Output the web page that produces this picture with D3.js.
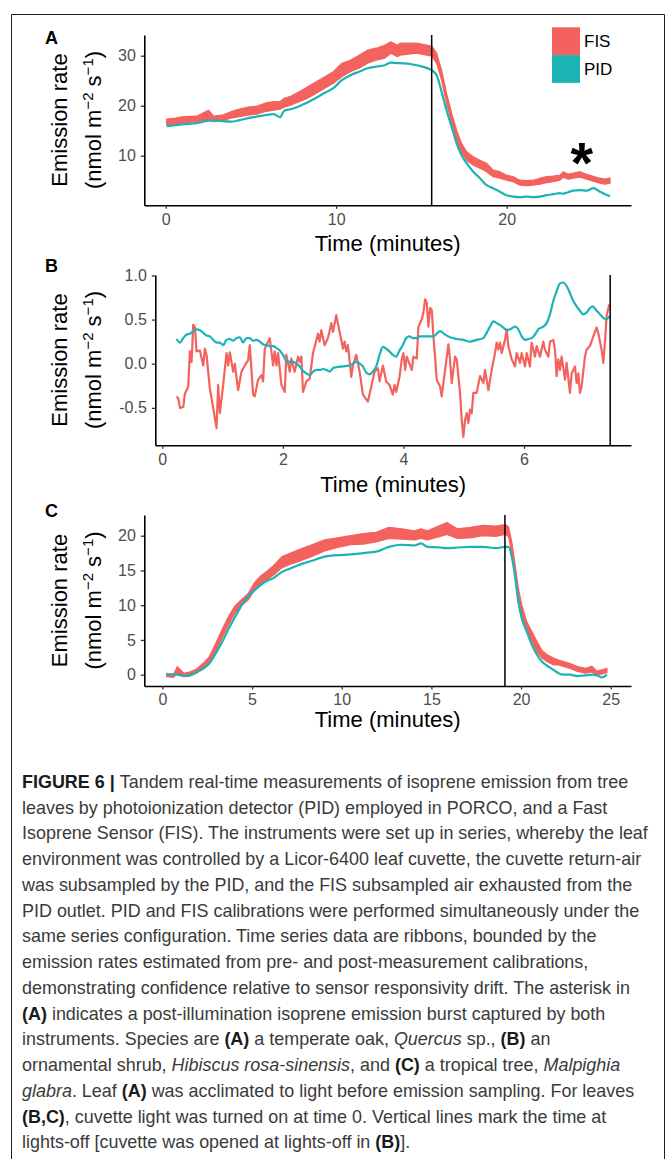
<!DOCTYPE html>
<html><head><meta charset="utf-8">
<script src="https://cdn.jsdelivr.net/npm/d3@7"></script>
<style>body{margin:0;background:#fff}svg{display:block}</style>
</head><body>
<svg id="c" width="670" height="1159"></svg>
<script>
// ---------- DATA ----------
const seriesNames = ["FIS", "PID"];
const panelLabels = ["A", "B", "C"];
const lightsOff = [15.6, 7.43, 19.1];
const xTicksA = [0, 10, 20], yTicksA = [10, 20, 30];
const xTicksB = [0, 2, 4, 6], yTicksB = [-0.5, 0.0, 0.5, 1.0];
const xTicksC = [0, 5, 10, 15, 20, 25], yTicksC = [0, 5, 10, 15, 20];

// Panel A: FIS ribbon [time, lower, upper]
const fisA = [[0.06,16.1,17.3],[0.56,16.3,17.5],[1.06,16.6,17.8],[1.81,16.8,17.9],[2.51,17.1,19.1],[2.81,16.8,17.9],[3.31,17.0,18.1],[3.82,17.5,18.8],[4.32,17.8,19.3],[4.82,18.1,19.7],[5.32,18.3,19.9],[5.82,18.8,20.5],[6.32,19.1,20.8],[6.70,19.3,20.8],[6.95,19.7,21.5],[7.33,20.1,21.9],[7.83,20.8,22.8],[8.33,21.5,23.8],[8.83,22.5,24.8],[9.33,23.5,25.8],[9.83,24.5,26.8],[10.33,25.8,28.5],[10.83,26.8,29.1],[11.34,27.5,30.1],[11.84,28.5,31.1],[12.34,29.1,31.5],[12.84,29.5,32.1],[13.21,30.5,32.8],[13.59,29.8,32.1],[13.74,30.1,32.5],[14.72,30.5,32.5],[15.60,29.9,31.9],[15.89,28.5,30.5],[16.18,25.1,27.1],[16.47,20.5,22.5],[16.77,16.5,18.5],[17.06,13.1,15.1],[17.35,10.5,12.5],[17.65,9.1,10.8],[18.04,8.1,9.8],[18.43,7.5,9.1],[18.82,6.8,8.5],[19.21,5.8,7.1],[19.60,5.5,6.8],[19.99,5.1,6.1],[20.38,4.8,5.8],[20.78,4.1,5.1],[21.17,4.0,5.0],[21.56,4.1,5.1],[21.95,4.3,5.5],[22.34,4.6,5.8],[22.73,4.8,5.9],[23.12,5.1,6.1],[23.32,5.7,6.8],[23.61,5.3,6.3],[23.91,5.5,6.5],[24.30,5.7,6.8],[24.69,5.3,6.3],[25.08,4.9,5.9],[25.47,4.5,5.5],[25.77,4.3,5.3],[26.06,4.5,5.5]];
// Panel A: PID [time, value]
const pidA = [[0.06,15.9],[0.56,16.1],[1.06,16.3],[1.81,16.5],[2.51,17.0],[2.81,17.1],[3.31,16.9],[3.82,16.8],[4.32,17.1],[4.82,17.5],[5.32,17.8],[5.82,18.1],[6.32,18.3],[6.70,17.7],[6.95,19.0],[7.33,19.3],[7.83,19.9],[8.33,20.7],[8.83,21.6],[9.33,22.6],[9.83,23.5],[10.33,25.1],[10.83,26.1],[11.34,26.8],[11.84,27.5],[12.34,27.8],[12.84,28.1],[13.21,28.6],[13.59,28.5],[13.74,28.5],[14.72,28.1],[15.60,27.1],[15.89,26.1],[16.18,22.8],[16.47,19.1],[16.77,15.8],[17.06,12.5],[17.35,10.1],[17.65,8.5],[18.04,6.8],[18.43,5.5],[18.82,4.1],[19.21,3.5],[19.60,2.8],[19.99,2.1],[20.38,1.8],[20.78,1.7],[21.17,1.8],[21.56,1.7],[21.95,1.8],[22.34,2.1],[22.73,2.3],[23.12,2.5],[23.32,2.4],[23.61,2.7],[23.91,3.0],[24.30,3.1],[24.69,3.0],[25.08,3.5],[25.47,2.8],[25.77,2.3],[26.06,1.9]];

// Panel B: FIS [time, value]
const fisB = [[0.237,-0.37],[0.265,-0.39],[0.292,-0.50],[0.348,-0.49],[0.375,-0.34],[0.430,-0.26],[0.458,0.14],[0.486,0.02],[0.513,0.44],[0.541,0.42],[0.568,0.14],[0.624,0.15],[0.679,-0.02],[0.706,0.17],[0.734,0.10],[0.789,-0.28],[0.844,-0.50],[0.900,-0.73],[0.927,-0.24],[0.955,-0.56],[1.010,-0.24],[1.065,0.12],[1.093,-0.02],[1.120,0.13],[1.175,-0.09],[1.203,0.00],[1.258,-0.30],[1.313,-0.09],[1.369,-0.02],[1.424,0.04],[1.451,0.21],[1.507,-0.35],[1.534,-0.37],[1.589,-0.18],[1.645,-0.13],[1.672,-0.20],[1.700,0.17],[1.783,0.29],[1.838,-0.02],[1.865,0.14],[1.893,-0.02],[1.921,0.12],[1.976,-0.24],[2.031,-0.32],[2.058,0.10],[2.114,-0.09],[2.141,0.06],[2.196,-0.09],[2.252,0.08],[2.279,0.02],[2.307,0.08],[2.334,-0.32],[2.390,-0.20],[2.445,-0.17],[2.500,0.12],[2.583,0.34],[2.610,0.25],[2.638,0.38],[2.693,0.21],[2.748,0.29],[2.804,0.46],[2.831,0.36],[2.886,0.55],[2.942,0.36],[2.997,0.17],[3.024,0.25],[3.052,0.14],[3.079,0.21],[3.135,-0.15],[3.162,-0.02],[3.217,0.10],[3.273,-0.09],[3.328,-0.35],[3.411,-0.43],[3.466,-0.26],[3.521,-0.09],[3.576,-0.05],[3.604,-0.20],[3.659,-0.02],[3.714,-0.20],[3.769,-0.24],[3.824,-0.35],[3.852,-0.24],[3.880,-0.32],[3.935,-0.15],[3.972,0.05],[4.000,0.12],[4.028,-0.07],[4.055,0.08],[4.138,-0.07],[4.166,0.08],[4.221,0.06],[4.249,0.42],[4.304,0.50],[4.331,0.58],[4.359,0.73],[4.387,0.69],[4.414,0.42],[4.442,0.63],[4.470,0.61],[4.497,0.31],[4.525,0.08],[4.552,-0.18],[4.608,-0.26],[4.635,-0.37],[4.691,-0.07],[4.746,0.22],[4.773,0.05],[4.801,-0.22],[4.856,0.08],[4.884,0.05],[4.939,-0.33],[4.967,-0.64],[4.994,-0.83],[5.022,-0.64],[5.050,-0.56],[5.077,-0.67],[5.105,-0.52],[5.133,-0.56],[5.160,-0.33],[5.215,-0.33],[5.271,-0.14],[5.326,-0.22],[5.354,-0.07],[5.409,-0.30],[5.464,-0.07],[5.519,0.12],[5.547,0.24],[5.575,0.16],[5.602,0.24],[5.630,0.12],[5.685,0.27],[5.713,0.39],[5.740,0.20],[5.796,0.05],[5.851,-0.03],[5.878,0.12],[5.934,0.01],[5.961,0.12],[6.017,-0.03],[6.044,0.12],[6.099,-0.03],[6.127,0.24],[6.182,0.08],[6.210,0.20],[6.265,0.08],[6.320,0.25],[6.348,0.16],[6.403,0.08],[6.431,0.25],[6.486,0.27],[6.514,0.16],[6.541,-0.14],[6.569,0.05],[6.597,-0.07],[6.624,0.08],[6.680,-0.18],[6.707,0.01],[6.762,-0.33],[6.790,-0.11],[6.845,-0.03],[6.873,-0.22],[6.901,-0.11],[6.928,-0.33],[6.956,-0.26],[7.011,0.08],[7.039,0.16],[7.094,0.20],[7.149,0.31],[7.204,0.41],[7.232,0.35],[7.287,0.16],[7.315,0.01],[7.343,0.24],[7.370,0.54],[7.414,0.67]];
// Panel B: PID [time, value]
const pidB = [[0.237,0.28],[0.292,0.24],[0.348,0.29],[0.403,0.33],[0.458,0.34],[0.513,0.37],[0.568,0.39],[0.624,0.38],[0.679,0.35],[0.734,0.32],[0.789,0.31],[0.844,0.27],[0.900,0.24],[0.955,0.24],[1.010,0.21],[1.065,0.27],[1.120,0.28],[1.175,0.26],[1.231,0.29],[1.286,0.30],[1.341,0.24],[1.396,0.29],[1.451,0.29],[1.507,0.26],[1.562,0.27],[1.617,0.25],[1.672,0.22],[1.727,0.21],[1.783,0.20],[1.838,0.20],[1.893,0.18],[1.948,0.15],[2.003,0.10],[2.058,0.03],[2.114,0.02],[2.169,0.02],[2.224,0.00],[2.279,-0.03],[2.334,-0.08],[2.390,-0.11],[2.445,-0.13],[2.500,-0.09],[2.555,-0.07],[2.610,-0.07],[2.666,-0.06],[2.721,-0.07],[2.776,-0.09],[2.831,-0.05],[2.886,-0.04],[2.997,-0.03],[3.107,-0.02],[3.162,0.00],[3.217,0.02],[3.273,0.00],[3.328,-0.03],[3.383,-0.10],[3.438,-0.12],[3.493,-0.09],[3.549,-0.03],[3.604,0.10],[3.659,0.19],[3.714,0.17],[3.769,0.14],[3.824,0.10],[3.880,0.08],[3.935,0.15],[3.990,0.21],[4.045,0.29],[4.100,0.31],[4.156,0.29],[4.211,0.29],[4.276,0.31],[4.497,0.31],[4.608,0.37],[4.691,0.33],[4.773,0.30],[4.884,0.28],[4.994,0.27],[5.105,0.25],[5.215,0.27],[5.326,0.29],[5.381,0.35],[5.436,0.42],[5.492,0.48],[5.547,0.46],[5.602,0.44],[5.657,0.41],[5.713,0.38],[5.768,0.39],[5.851,0.42],[5.906,0.39],[5.961,0.31],[6.017,0.27],[6.072,0.28],[6.127,0.29],[6.182,0.33],[6.238,0.39],[6.320,0.42],[6.376,0.46],[6.431,0.56],[6.486,0.71],[6.541,0.82],[6.597,0.91],[6.652,0.92],[6.707,0.88],[6.762,0.80],[6.818,0.71],[6.873,0.65],[6.928,0.60],[6.983,0.56],[7.039,0.58],[7.094,0.63],[7.138,0.65],[7.204,0.60],[7.260,0.56],[7.315,0.52],[7.370,0.50],[7.414,0.54]];

// Panel C: FIS ribbon [time, lower, upper]
const fisC = [[0.24,-0.3,0.2],[0.60,-0.4,-0.05],[0.83,0.2,1.15],[1.19,-0.3,0.2],[1.55,-0.2,0.4],[1.90,0.2,0.8],[2.26,0.9,1.6],[2.62,1.6,2.6],[2.97,3.3,4.5],[3.33,5.3,6.5],[3.69,7.2,8.4],[4.05,8.9,9.9],[4.40,9.9,10.8],[4.76,10.7,11.6],[5.12,12.1,13.2],[5.48,13.1,14.2],[5.83,13.7,14.9],[6.19,14.3,15.7],[6.67,15.4,17.0],[7.15,15.9,17.5],[7.62,16.3,18.0],[8.34,17.0,18.7],[9.05,17.8,19.4],[9.77,18.3,19.7],[10.49,18.7,20.0],[11.20,18.8,20.3],[11.92,19.1,20.5],[12.63,19.6,21.2],[13.35,19.5,21.0],[14.06,19.4,20.7],[14.42,19.6,21.0],[14.78,19.4,20.7],[15.50,19.9,21.5],[15.86,20.2,21.9],[16.45,19.6,21.0],[17.17,19.7,21.2],[17.88,20.0,21.5],[18.60,19.9,21.4],[19.11,20.2,21.6],[19.30,19.9,21.3],[19.48,17.5,19.1],[19.67,14.0,15.8],[19.85,10.5,12.4],[20.04,8.1,10.0],[20.32,6.2,7.6],[20.60,4.8,6.2],[20.88,3.3,4.8],[21.16,2.4,3.5],[21.44,1.9,2.9],[21.81,1.4,2.4],[22.09,1.4,2.1],[22.37,1.2,1.9],[22.74,0.9,1.6],[23.11,0.5,1.2],[23.58,0.2,0.9],[23.95,0.4,1.2],[24.23,-0.1,0.5],[24.51,0.1,0.7],[24.79,0.3,0.9]];
// Panel C: PID [time, value]
const pidC = [[0.24,0.05],[0.60,0.05],[0.83,0.0],[1.19,-0.18],[1.55,-0.04],[1.90,0.35],[2.26,0.83],[2.62,1.64],[2.97,3.06],[3.33,4.7],[3.69,6.6],[4.05,8.3],[4.40,9.9],[4.76,11.2],[5.12,12.1],[5.48,12.9],[5.83,13.5],[6.19,13.9],[6.67,14.8],[7.15,15.3],[7.62,15.8],[8.34,16.4],[9.05,17.0],[9.77,17.2],[10.49,17.3],[11.20,17.5],[11.92,17.7],[12.63,18.4],[13.35,18.7],[14.06,18.6],[14.42,18.9],[14.78,18.4],[15.50,18.3],[15.86,18.2],[16.45,18.3],[17.17,18.4],[17.88,18.4],[18.60,18.2],[19.11,18.4],[19.30,18.4],[19.48,17.0],[19.67,14.0],[19.85,10.5],[20.04,8.1],[20.32,6.2],[20.60,4.3],[20.88,2.9],[21.16,1.9],[21.44,1.3],[21.81,0.7],[22.09,0.2],[22.37,0.0],[22.74,0.0],[23.11,-0.2],[23.58,-0.1],[23.95,0.0],[24.23,-0.1],[24.51,-0.4],[24.79,0.0]];

const captionLines = [
  [["FIGURE 6 | ","b"],["Tandem real-time measurements of isoprene emission from tree",""]],
  [["leaves by photoionization detector (PID) employed in PORCO, and a Fast",""]],
  [["Isoprene Sensor (FIS). The instruments were set up in series, whereby the leaf",""]],
  [["environment was controlled by a Licor-6400 leaf cuvette, the cuvette return-air",""]],
  [["was subsampled by the PID, and the FIS subsampled air exhausted from the",""]],
  [["PID outlet. PID and FIS calibrations were performed simultaneously under the",""]],
  [["same series configuration. Time series data are ribbons, bounded by the",""]],
  [["emission rates estimated from pre- and post-measurement calibrations,",""]],
  [["demonstrating confidence relative to sensor responsivity drift. The asterisk in",""]],
  [["(A)","b"],[" indicates a post-illumination isoprene emission burst captured by both",""]],
  [["instruments. Species are ",""],["(A)","b"],[" a temperate oak, ",""],["Quercus","i"],[" sp., ",""],["(B)","b"],[" an",""]],
  [["ornamental shrub, ",""],["Hibiscus rosa-sinensis","i"],[", and ",""],["(C)","b"],[" a tropical tree, ",""],["Malpighia","i"]],
  [["glabra","i"],[". Leaf ",""],["(A)","b"],[" was acclimated to light before emission sampling. For leaves",""]],
  [["(B,C)","b"],[", cuvette light was turned on at time 0. Vertical lines mark the time at",""]],
  [["lights-off [cuvette was opened at lights-off in ",""],["(B)","b"],["].",""]]
];

// ---------- DRAW ----------
const colors = {FIS: "#F4625E", PID: "#1CB3B5"};
const FONT = "'Liberation Sans', Arial, Helvetica, sans-serif";
const svg = d3.select("#c");
// figure frame (left, right, top edges)
svg.append("path").attr("d", "M11.5,1159 V14.5 H664.5 V1159")
  .attr("fill", "none").attr("stroke", "#222").attr("stroke-width", 1);

const panels = [
  {label: "A", xr: [144.3, 631], yr: [205.3, 35], xd: [-1.255, 27.29], yd: [0.08, 34.14],
   xt: xTicksA, yt: yTicksA, fis: fisA, pid: pidA, ribbon: true, off: lightsOff[0],
   lab: [45, 43.5], xtitleY: 251, ycenter: 120},
  {label: "B", xr: [155.3, 631], yr: [445.3, 275], xd: [-0.116, 7.775], yd: [-0.924, 1.005],
   xt: xTicksB, yt: yTicksB, fis: fisB, pid: pidB, ribbon: false, off: lightsOff[1],
   lab: [45, 272], xtitleY: 491.5, ycenter: 360},
  {label: "C", xr: [144.3, 631], yr: [686, 515], xd: [-1.01, 26.13], yd: [-1.63, 22.98],
   xt: xTicksC, yt: yTicksC, fis: fisC, pid: pidC, ribbon: true, off: lightsOff[2],
   lab: [45, 517], xtitleY: 727, ycenter: 600.5}
];

panels.forEach((p, i) => {
  const x = d3.scaleLinear().domain(p.xd).range(p.xr);
  const y = d3.scaleLinear().domain(p.yd).range(p.yr);
  const g = svg.append("g");

  if (p.ribbon) {
    g.append("path").datum(p.fis)
      .attr("d", d3.area().x(d => x(d[0])).y0(d => y(d[1])).y1(d => y(d[2])))
      .attr("fill", colors.FIS).attr("stroke", colors.FIS).attr("stroke-width", 1.2)
      .attr("stroke-linejoin", "round");
  } else {
    g.append("path").datum(p.fis)
      .attr("d", d3.line().x(d => x(d[0])).y(d => y(d[1])))
      .attr("fill", "none").attr("stroke", colors.FIS).attr("stroke-width", 2.2)
      .attr("stroke-linejoin", "round");
  }
  g.append("path").datum(p.pid)
    .attr("d", d3.line().x(d => x(d[0])).y(d => y(d[1])).curve(d3.curveMonotoneX))
    .attr("fill", "none").attr("stroke", colors.PID).attr("stroke-width", 2.2)
    .attr("stroke-linejoin", "round");

  // lights-off line
  g.append("line").attr("x1", x(p.off)).attr("x2", x(p.off))
    .attr("y1", p.yr[1]).attr("y2", p.yr[0]).attr("stroke", "#000").attr("stroke-width", 1.5);

  // axes
  const fmt = i === 1 ? (v => d3.format(".1f")(v).replace("\u2212", "-")) : d3.format("d");
  const ax = g.append("g").attr("transform", `translate(0,${p.yr[0]})`)
    .call(d3.axisBottom(x).tickValues(p.xt).tickSize(3.5).tickSizeOuter(0).tickPadding(4).tickFormat(d3.format("d")));
  const ay = g.append("g").attr("transform", `translate(${p.xr[0]},0)`)
    .call(d3.axisLeft(y).tickValues(p.yt).tickSize(3.5).tickSizeOuter(0).tickPadding(5).tickFormat(fmt));
  [ax, ay].forEach(a => {
    a.select(".domain").attr("stroke", "#000").attr("stroke-width", 1.6);
    a.selectAll(".tick line").attr("stroke", "#333").attr("stroke-width", 1.3);
    a.selectAll(".tick text").attr("fill", "#4D4D4D").style("font-family", FONT).style("font-size", "16px");
  });
  ax.selectAll(".tick text").attr("y", 8).attr("dy", "0.71em");

  // titles
  g.append("text").attr("x", (p.xr[0] + p.xr[1]) / 2).attr("y", p.xtitleY)
    .attr("text-anchor", "middle").style("font-family", FONT).style("font-size", "22px")
    .attr("fill", "#000").text("Time (minutes)");
  g.append("text").attr("transform", `translate(66.5,${p.ycenter}) rotate(-90)`)
    .attr("text-anchor", "middle").style("font-family", FONT).style("font-size", "22px").attr("fill", "#000")
    .text("Emission rate");
  const yt2 = g.append("text").attr("transform", `translate(101,${p.ycenter}) rotate(-90)`)
    .attr("text-anchor", "middle").style("font-family", FONT).style("font-size", "22px").attr("fill", "#000");
  yt2.append("tspan").text("(nmol m");
  yt2.append("tspan").attr("dy", -8).style("font-size", "15px").text("\u22122");
  yt2.append("tspan").attr("dy", 8).text(" s");
  yt2.append("tspan").attr("dy", -8).style("font-size", "15px").text("\u22121");
  yt2.append("tspan").attr("dy", 8).text(")");

  g.append("text").attr("x", p.lab[0]).attr("y", p.lab[1])
    .style("font-family", FONT).style("font-size", "18px").style("font-weight", "bold").text(p.label);

  if (i === 0) {
    // legend
    seriesNames.forEach((s, k) => {
      g.append("rect").attr("x", 552).attr("y", 27.3 + k * 27.8).attr("width", 28).attr("height", 27.8)
        .attr("fill", colors[s]);
      g.append("text").attr("x", 584).attr("y", 41.2 + k * 27.8).attr("dy", "0.36em")
        .style("font-family", FONT).style("font-size", "17px").attr("fill", "#000").text(s);
    });
    // asterisk
    g.append("text").attr("x", x(24.4)).attr("y", 183).attr("text-anchor", "middle")
      .style("font-family", FONT).style("font-size", "58px").style("font-weight", "bold").text("*");
  }
});

// caption
const cap = svg.append("g");
const capTexts = [];
captionLines.forEach((segs, i) => {
  const t = cap.append("text").attr("x", 0).attr("y", 788 + i * 25.75)
    .style("font-family", FONT).style("font-size", "18.5px").attr("fill", "#3a3a3a");
  segs.forEach(([s, st]) => {
    const ts = t.append("tspan").text(s);
    if (st === "b") ts.style("font-weight", "bold").attr("fill", "#1a1a1a");
    if (st === "i") ts.style("font-style", "italic");
  });
  capTexts.push(t);
});
const w3 = capTexts[2].node().getComputedTextLength();
const sx = 626 / w3;
cap.attr("transform", `translate(22,0) scale(${sx},1)`);
</script>
</body></html>
